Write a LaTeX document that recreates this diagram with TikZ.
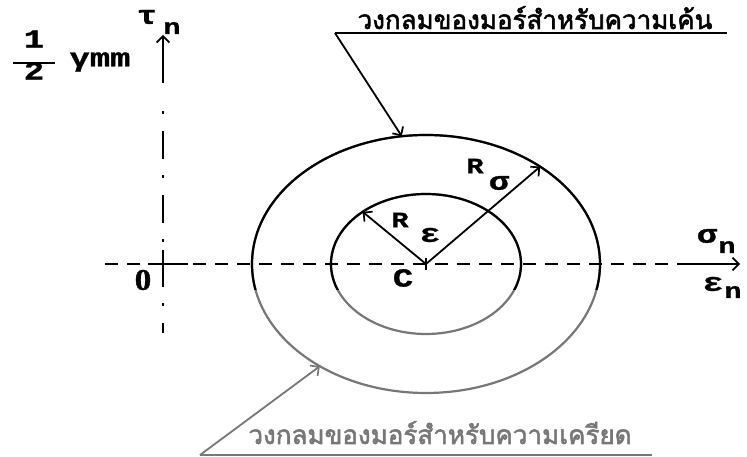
\documentclass[tikz,border=0pt]{standalone}
\usepackage{fontspec}
\usepackage{tikz}
\usetikzlibrary{arrows.meta, calc}
\newfontfamily\thaifont[Script=Thai, FakeBold=2]{Loma}
\newfontfamily\lblfont[FakeBold=1]{Liberation Mono}
\newfontfamily\digitfont[FakeBold=1]{Liberation Serif}
\definecolor{ScanGray}{HTML}{777777}

\tikzset{
  axisline/.style={line width=2pt},
  mohr/.style={line width=2.2pt},
  barb/.style={-{Straight Barb[angle=90:9pt, line width=1.7pt]}},
  leader/.style={line width=1.8pt},
  lbl/.style={font=\lblfont\bfseries\fontsize{26}{26}\selectfont, inner sep=0pt, xscale=1.3, transform shape},
  sublbl/.style={font=\lblfont\bfseries\fontsize{22}{22}\selectfont, inner sep=0pt, xscale=1.3, transform shape},
  thai/.style={font=\thaifont\fontsize{26}{28}\selectfont, inner sep=0pt}
}

\begin{document}
\begin{tikzpicture}[x=1pt, y=1pt]
    \useasboundingbox (0,0) rectangle (747,457);

    % Points of the diagram
    \coordinate (O) at (163,193);
    \coordinate (xstart) at (105,193);
    \coordinate (xsolid) at (680,193);
    \coordinate (xend) at (740,193);
    \coordinate (ytop) at (163,422);
    \coordinate (ysolid) at (163,374);
    \coordinate (ydash) at (163,346);
    \coordinate (ybot) at (163,124);
    \coordinate (C) at (426,193);
    \coordinate (Rs) at ($(C)+(49:174pt and 129pt)$);
    \coordinate (Re) at ($(C)+(131.8:95pt and 70pt)$);
    \coordinate (stresstip) at ($(C)+(98:174pt and 129pt)$);
    \coordinate (straintip) at ($(C)+(232.4:174pt and 129pt)$);
    \coordinate (stresscorner) at (335,424);
    \coordinate (stressend) at (727,424);
    \coordinate (straincorner) at (200,2);
    \coordinate (strainend) at (652,2);

    % Mohr circles (lower half faded in the scan)
    \draw[mohr, ScanGray] (C) ellipse [x radius=174, y radius=129];
    \draw[mohr, ScanGray] (C) ellipse [x radius=95, y radius=70];
    \begin{scope}
        \clip (0,167) rectangle (747,457);
        \draw[mohr] (C) ellipse [x radius=174, y radius=129];
        \draw[mohr] (C) ellipse [x radius=95, y radius=70];
    \end{scope}

    % Axes
    \draw[axisline, dash pattern=on 13pt off 9pt] (xstart) -- (xsolid);
    \draw[axisline, barb] (xsolid) -- (xend);
    \draw[axisline, barb] (ysolid) -- (ytop);
    \draw[axisline, dash pattern=on 3pt off 17pt on 28pt off 16pt] (ydash) -- (ybot);
    \draw[axisline] ($(O)+(-15,0)$) -- ($(O)+(25,0)$);
    \draw[axisline] ($(O)+(0,14)$) -- ($(O)+(0,-23)$);
    \draw[line width=1.6pt] ($(C)+(0,6)$) -- ($(C)+(0,-6)$);

    % Radii
    \draw[leader, barb] (C) -- (Rs);
    \draw[leader, barb] (C) -- (Re);

    % Callouts
    \draw[leader] (stressend) -- (stresscorner);
    \draw[leader, barb] (stresscorner) -- (stresstip);
    \draw[leader, ScanGray] (strainend) -- (straincorner);
    \draw[leader, ScanGray, barb] (straincorner) -- (straintip);
    \node[thai, anchor=base] (stresslbl) at (535,428) {วงกลมของมอร์สำหรับความเค้น};
    \node[thai, anchor=base, ScanGray] (strainlbl) at (440,13) {วงกลมของมอร์สำหรับความเครียด};

    % Axis labels
    \node[lbl] (tau) at (147,440) {τ};
    \node[sublbl] (taun) at (172,429) {n};
    \node[lbl, align=center] (half) at (34,402) {1\\[-10pt]\rule{32pt}{1.8pt}\\[-10pt]2};
    \node[lbl] (gam) at (100,395) {γmm};
    \node[lbl, font=\digitfont\bfseries\fontsize{30}{30}\selectfont, xscale=0.85] (zero) at (143,177) {0};
    \node[lbl] (cen) at (403,179) {C};
    \node[lbl] (sig) at (707,221) {σ};
    \node[sublbl] (sign) at (727,210) {n};
    \node[lbl] (eps) at (713,173) {ε};
    \node[sublbl] (epsn) at (733,165) {n};

    % Radius labels
    \node[sublbl] (Rel) at (400,237) {R};
    \node[lbl] (Rei) at (430,222) {ε};
    \node[sublbl] (Rsl) at (475,291) {R};
    \node[lbl] (Rsi) at (499,274) {σ};
\end{tikzpicture}
\end{document}
